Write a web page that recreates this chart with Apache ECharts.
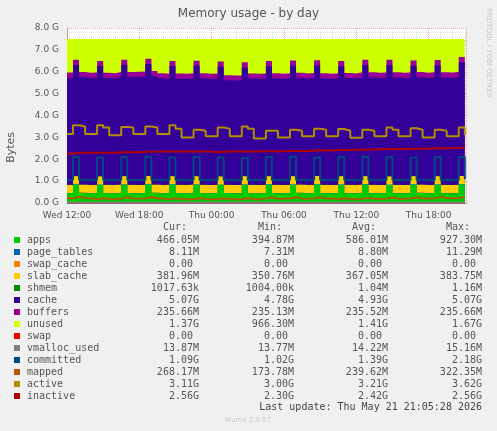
<!DOCTYPE html>
<html>
<head>
<meta charset="utf-8">
<script src="https://cdn.jsdelivr.net/npm/echarts@6/dist/echarts.min.js"></script>
<style>
html, body { margin: 0; padding: 0; background: #F0F0F0; }
#chart { width: 497px; height: 431px; }
</style>
</head>
<body>
<div id="chart"></div>
<script>
// samples every 30 min from Wed 12:00 (hour 12) to Thu 21:00 (hour 45), values in G
var startHour = 12, stepHour = 0.5;
var total = 7.5;
var apps = [.45,.85,.46,.44, .45,.83,.45,.44, .46,.84,.45,.44, .45,.86,.46,.44, .45,.85,.45,.44,
            .46,.84,.45,.44, .45,.83,.45,.44, .44,.84,.45,.44, .45,.85,.45,.44, .45,.84,.46,.44,
            .45,.86,.45,.44, .45,.84,.45,.44, .46,.85,.45,.44, .45,.83,.45,.44, .45,.85,.46,.44,
            .45,.84,.45,.44, .45,.86,.46];
var cache = [4.90,5.08,4.92,4.90, 4.90,5.05,4.89,4.88, 4.92,5.10,4.93,4.95, 4.95,5.12,4.96,4.88,
             4.85,5.03,4.86,4.85, 4.86,5.05,4.87,4.85, 4.86,5.02,4.78,4.78, 4.78,4.98,4.86,4.86,
             4.86,5.03,4.87,4.86, 4.87,5.06,4.88,4.87, 4.88,5.05,4.87,4.86, 4.87,5.04,4.88,4.87,
             4.90,5.08,4.91,4.90, 4.90,5.10,4.91,4.90, 4.90,5.05,4.91,4.90, 4.91,5.08,4.91,4.91,
             4.92,5.20,5.00];
var committed = [1.05,2.10,1.06,1.05, 1.05,2.08,1.05,1.04, 1.06,2.10,1.05,1.05, 1.05,2.10,1.06,1.05,
                 1.05,2.08,1.05,1.04, 1.05,2.10,1.05,1.05, 1.05,2.08,1.05,1.04, 1.04,2.06,1.05,1.05,
                 1.05,2.10,1.05,1.05, 1.05,2.12,1.06,1.05, 1.05,2.08,1.05,1.05, 1.05,2.10,1.05,1.04,
                 1.05,2.12,1.06,1.05, 1.05,2.10,1.05,1.05, 1.05,2.08,1.06,1.05, 1.05,2.10,1.05,1.05,
                 1.05,2.10,1.09];
var active = [3.15,3.55,3.50,3.15, 3.15,3.55,3.45,3.10, 3.10,3.48,3.45,3.15, 3.15,3.50,3.45,3.15,
              3.15,3.55,3.40,3.00, 3.00,3.35,3.30,3.05, 3.05,3.45,3.40,3.05, 3.05,3.50,3.40,2.95,
              2.95,3.30,3.30,3.00, 3.00,3.35,3.30,3.05, 3.05,3.40,3.35,3.05, 3.05,3.38,3.30,2.98,
              2.98,3.35,3.30,3.05, 3.05,3.45,3.35,3.05, 3.05,3.42,3.35,3.00, 3.00,3.35,3.30,3.05,
              3.05,3.45,3.11];
var inactive = [2.25,2.30,2.30,2.30, 2.30,2.30,2.30,2.30, 2.32,2.32,2.32,2.32, 2.34,2.34,2.35,2.35,
                2.36,2.36,2.36,2.36, 2.36,2.36,2.36,2.36, 2.32,2.34,2.35,2.35, 2.35,2.36,2.36,2.36,
                2.37,2.37,2.37,2.37, 2.38,2.38,2.38,2.38, 2.40,2.40,2.40,2.40, 2.42,2.42,2.42,2.43,
                2.44,2.44,2.46,2.46, 2.47,2.47,2.47,2.47, 2.48,2.48,2.48,2.49, 2.50,2.50,2.50,2.51,
                2.52,2.54,2.56];
var mapped = [.22,.28,.23,.22, .17,.22,.18,.17, .20,.26,.21,.20, .21,.27,.21,.21, .17,.22,.17,.17,
              .17,.22,.18,.17, .17,.22,.17,.17, .17,.22,.17,.17, .20,.25,.20,.20, .20,.26,.20,.20,
              .21,.26,.21,.21, .17,.22,.17,.17, .18,.24,.19,.18, .20,.25,.20,.20, .21,.26,.21,.21,
              .22,.28,.22,.22, .22,.28,.27];
var pageTables = 0.008, swapCache = 0, slabCache = 0.37, shmem = 0.001, buffers = 0.235, swap = 0, vmalloc = 0.014;

var legendRows = [
  ['apps', '#00CC00', '466.05M', '394.87M', '586.01M', '927.30M'],
  ['page_tables', '#0066B3', '8.11M', '7.31M', '8.80M', '11.29M'],
  ['swap_cache', '#FF8000', '0.00', '0.00', '0.00', '0.00'],
  ['slab_cache', '#FFCC00', '381.96M', '350.76M', '367.05M', '383.75M'],
  ['shmem', '#008F00', '1017.63k', '1004.00k', '1.04M', '1.16M'],
  ['cache', '#330099', '5.07G', '4.78G', '4.93G', '5.07G'],
  ['buffers', '#990099', '235.66M', '235.13M', '235.52M', '235.66M'],
  ['unused', '#CCFF00', '1.37G', '966.30M', '1.41G', '1.67G'],
  ['swap', '#FF0000', '0.00', '0.00', '0.00', '0.00'],
  ['vmalloc_used', '#808080', '13.87M', '13.77M', '14.22M', '15.16M'],
  ['committed', '#00487D', '1.09G', '1.02G', '1.39G', '2.18G'],
  ['mapped', '#B35A00', '268.17M', '173.78M', '239.62M', '322.35M'],
  ['active', '#B38F00', '3.11G', '3.00G', '3.21G', '3.62G'],
  ['inactive', '#B30000', '2.56G', '2.30G', '2.42G', '2.56G']
];

var n = apps.length;
function val(a, i) { return Array.isArray(a) ? a[i] : a; }
function pts(arr) {
  var r = [];
  for (var i = 0; i < n; i++) r.push([startHour + stepHour * i, val(arr, i)]);
  return r;
}
var unused = [];
for (var i = 0; i < n; i++) unused.push(total - apps[i] - pageTables - swapCache - slabCache - shmem - cache[i] - buffers);

// stacked areas: cumulative tops computed here, drawn top-down, each filling to zero
var stackDefs = [
  ['apps', apps, '#00CC00'], ['page_tables', pageTables, '#0066B3'], ['swap_cache', swapCache, '#FF8000'],
  ['slab_cache', slabCache, '#FFCC00'], ['shmem', shmem, '#008F00'], ['cache', cache, '#330099'],
  ['buffers', buffers, '#990099'], ['unused', unused, '#CCFF00']
];
var cum = [];
for (var i = 0; i < n; i++) cum.push(0);
var areaSeries = [];
stackDefs.forEach(function (d, k) {
  var top = [];
  for (var i = 0; i < n; i++) { cum[i] += val(d[1], i); top.push(cum[i]); }
  areaSeries.push({ name: d[0], type: 'line', step: 'end', data: pts(top), symbol: 'none', z: 2 - k * 0.01,
    lineStyle: { width: 0 }, areaStyle: { color: d[2], opacity: 1 }, itemStyle: { color: d[2] } });
});
areaSeries.reverse();

function line(name, data, color) {
  return { name: name, type: 'line', step: 'end', data: pts(data), symbol: 'none', z: 5,
    lineStyle: { width: 2, color: color }, itemStyle: { color: color } };
}

var days = ['Wed', 'Thu', 'Fri'];
var mono = 'DejaVu Sans Mono';
var graphic = [
  { type: 'text', left: 485, top: 8, rotation: -Math.PI / 2, style: { text: 'RRDTOOL / TOBI OETIKER', fill: '#c8c8c8', font: '7px DejaVu Sans' } },
  { type: 'text', left: 6, top: 132, rotation: Math.PI / 2, style: { text: 'Bytes', fill: '#555', font: '11px DejaVu Sans' } }
];
var cols = [199, 294, 388, 482];
var heads = ['Cur:', 'Min:', 'Avg:', 'Max:'];
heads.forEach(function (h, k) {
  graphic.push({ type: 'text', x: cols[k] - 12, y: 227, style: { text: h, fill: '#555', font: '10px ' + mono, textAlign: 'right', textVerticalAlign: 'middle' } });
});
legendRows.forEach(function (r, j) {
  var y = 240 + j * 12;
  graphic.push({ type: 'rect', shape: { x: 14, y: y - 3, width: 6, height: 6 }, style: { fill: r[1] } });
  graphic.push({ type: 'text', x: 27, y: y, style: { text: r[0], fill: '#555', font: '10px ' + mono, textVerticalAlign: 'middle' } });
  for (var k = 0; k < 4; k++) {
    var t = r[k + 2];
    graphic.push({ type: 'text', x: cols[k] - (t === '0.00' ? 6 : 0), y: y, style: { text: t, fill: '#555', font: '10px ' + mono, textAlign: 'right', textVerticalAlign: 'middle' } });
  }
});
graphic.push({ type: 'text', x: 482, y: 407, style: { text: 'Last update: Thu May 21 21:05:28 2026', fill: '#444', font: '10px ' + mono, textAlign: 'right', textVerticalAlign: 'middle' } });
graphic.push({ type: 'text', x: 248, y: 420, style: { text: 'Munin 2.0.57', fill: '#c8c8c8', font: '7px DejaVu Sans', textAlign: 'center', textVerticalAlign: 'middle' } });

var chart = echarts.init(document.getElementById('chart'));
chart.setOption({
  backgroundColor: '#F0F0F0',
  animation: false,
  title: { text: 'Memory usage - by day', left: 'center', top: 3, textStyle: { color: '#555', fontSize: 12, fontWeight: 'normal', fontFamily: 'DejaVu Sans' } },
  grid: { left: 67, right: 31, top: 28, bottom: 228, backgroundColor: '#fff', show: true, borderWidth: 0 },
  xAxis: {
    type: 'value', min: 12, max: 45.1, interval: 6,
    axisLine: { lineStyle: { color: '#aaa' } },
    axisTick: { show: false },
    axisLabel: { color: '#555', fontSize: 9, fontFamily: 'DejaVu Sans', showMaxLabel: false,
      formatter: function (v) { var h = v % 24; return days[Math.floor(v / 24)] + ' ' + (h < 10 ? '0' : '') + h + ':00'; } },
    splitLine: { show: true, lineStyle: { color: '#F0A0A0', type: 'dotted' } },
    minorTick: { show: false, splitNumber: 6 },
    minorSplitLine: { show: true, lineStyle: { color: '#ddd', type: 'dotted' } }
  },
  yAxis: {
    type: 'value', min: 0, max: 8, interval: 1,
    axisLine: { show: true, lineStyle: { color: '#aaa' } },
    axisTick: { show: false },
    axisLabel: { color: '#555', fontSize: 9, fontFamily: 'DejaVu Sans', formatter: function (v) { return v.toFixed(1) + ' G'; } },
    splitLine: { show: true, lineStyle: { color: '#F0A0A0', type: 'dotted' } },
    minorTick: { show: false, splitNumber: 5 },
    minorSplitLine: { show: true, lineStyle: { color: '#ddd', type: 'dotted' } }
  },
  graphic: graphic,
  series: areaSeries.concat([
    line('swap', swap, '#FF0000'),
    line('vmalloc_used', vmalloc, '#808080'),
    line('committed', committed, '#00487D'),
    line('mapped', mapped, '#B35A00'),
    line('active', active, '#B38F00'),
    line('inactive', inactive, '#B30000')
  ])
});
</script>
</body>
</html>
